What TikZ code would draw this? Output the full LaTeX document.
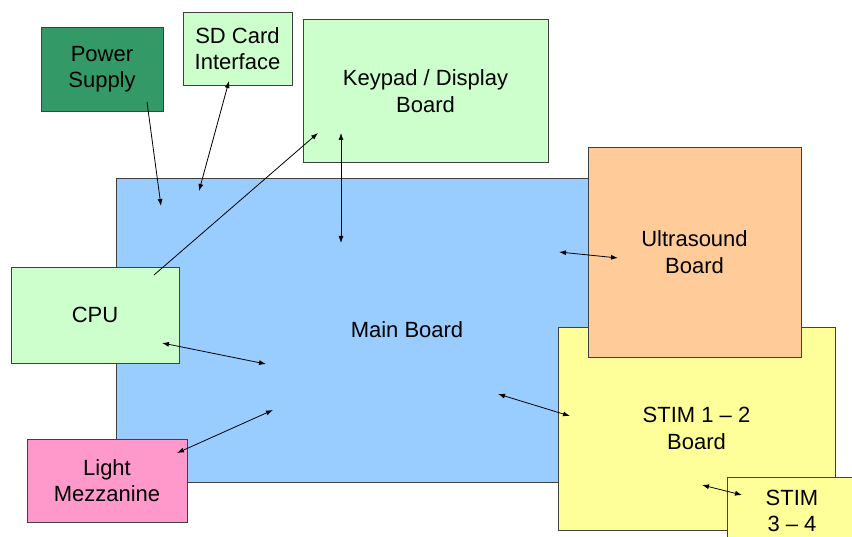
\documentclass[tikz,border=0pt]{standalone}
\usepackage{fontspec}
\setmainfont{Liberation Sans}
\usetikzlibrary{arrows.meta}
\definecolor{psgreen}{HTML}{339966}
\definecolor{ltgreen}{HTML}{CCFFCC}
\definecolor{mainblue}{HTML}{99CCFF}
\definecolor{usorange}{HTML}{FFCC99}
\definecolor{stimyellow}{HTML}{FFFF99}
\definecolor{mezzpink}{HTML}{FF99CC}
\definecolor{edge}{HTML}{404040}
\tikzset{
  box/.style={draw=edge, line width=0.9pt, rectangle, align=center, inner sep=0pt,
    font=\fontsize{22}{26.5}\selectfont},
  conn/.style={line width=0.8pt, draw=black},
  onearrow/.style={conn, -{Latex[length=7pt,width=5pt]}},
  twoarrow/.style={conn, {Latex[length=7pt,width=5pt]}-{Latex[length=7pt,width=5pt]}}
}
\begin{document}
\begin{tikzpicture}[x=1pt,y=-1pt]
\useasboundingbox (0,0) rectangle (852,537);
\clip (0,0) rectangle (852,537);
\fill[white] (0,0) rectangle (852,537);
% main board
\node[box, fill=mainblue, minimum width=582pt, minimum height=304pt] (main) at (407,330) {Main Board};
% peripheral boxes
\node[box, fill=psgreen, minimum width=122pt, minimum height=84pt] (ps) at (102,69) {Power\\Supply};
\node[box, fill=ltgreen, minimum width=109pt, minimum height=73pt] (sd) at (237.5,48.5) {SD Card\\Interface};
\node[box, fill=ltgreen, minimum width=245pt, minimum height=143pt] (kp) at (425.5,91) {Keypad / Display\\Board};
\node[box, fill=ltgreen, minimum width=168pt, minimum height=96pt] (cpu) at (95,315) {CPU};
\node[box, fill=mezzpink, minimum width=160pt, minimum height=83pt] (mezz) at (107,480.5) {Light\\Mezzanine};
\node[box, fill=stimyellow, minimum width=277pt, minimum height=203pt] (stim) at (696.5,428.5) {STIM 1 -- 2\\Board};
\node[box, fill=usorange, minimum width=213pt, minimum height=210pt] (us) at (694.5,252) {Ultrasound\\Board};
\node[box, fill=stimyellow, minimum width=130pt, minimum height=68pt] (stimb) at (792,511) {STIM\\3 -- 4};
% connector end points
\coordinate (psA) at (147,102);
\coordinate (psB) at (161,206);
\coordinate (sdA) at (199,191);
\coordinate (sdB) at (229,81);
\coordinate (cpuL) at (154,275);
\coordinate (kpL) at (318,133);
\coordinate (kpA) at (341,133);
\coordinate (kpB) at (341,243);
\coordinate (usA) at (559,252);
\coordinate (usB) at (618,258);
\coordinate (cpuA) at (162,343);
\coordinate (cpuB) at (266,364);
\coordinate (mzA) at (177,453);
\coordinate (mzB) at (273,410);
\coordinate (stA) at (498,394);
\coordinate (stB) at (570,416);
\coordinate (sbA) at (702,485);
\coordinate (sbB) at (742,495);
% connectors
\draw[onearrow] (psA) -- (psB);
\draw[twoarrow] (sdA) -- (sdB);
\draw[onearrow] (cpuL) -- (kpL);
\draw[twoarrow] (kpA) -- (kpB);
\draw[twoarrow] (usA) -- (usB);
\draw[twoarrow] (cpuA) -- (cpuB);
\draw[twoarrow] (mzA) -- (mzB);
\draw[twoarrow] (stA) -- (stB);
\draw[twoarrow] (sbA) -- (sbB);
\end{tikzpicture}
\end{document}
